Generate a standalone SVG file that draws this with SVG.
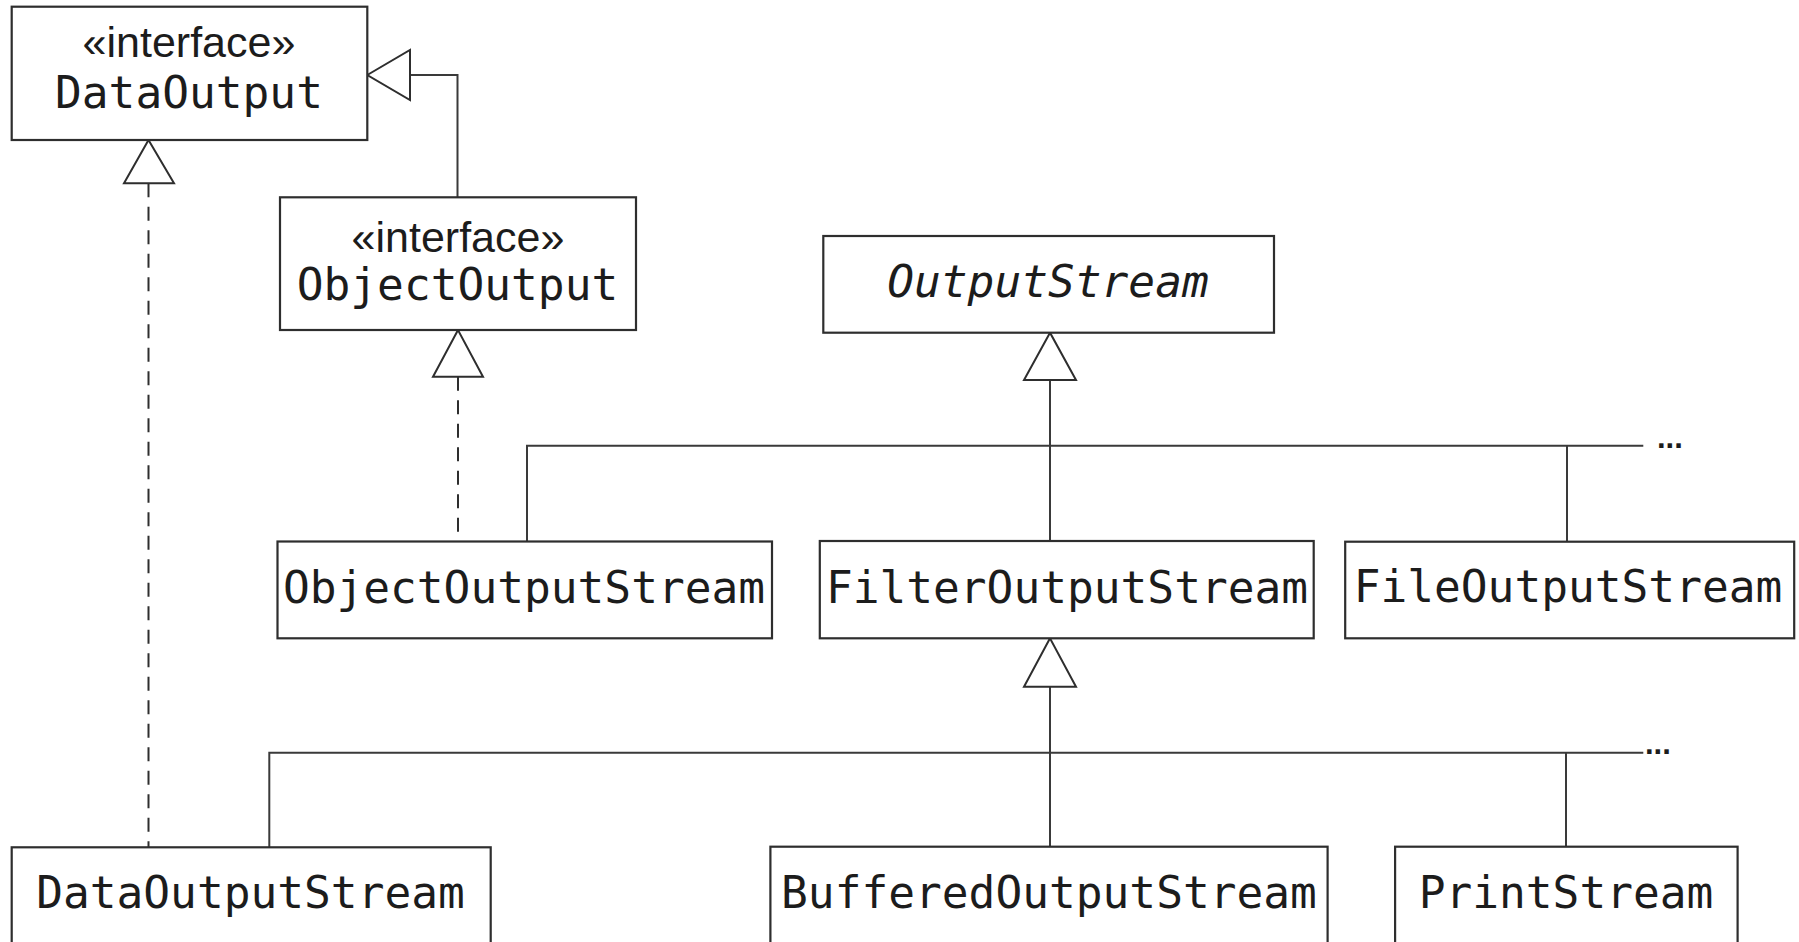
<svg xmlns="http://www.w3.org/2000/svg" width="1799" height="942" viewBox="0 0 1799 942">
  <style>
    .box { fill: #ffffff; stroke: #2e2e2e; stroke-width: 2.2; }
    .line { fill: none; stroke: #3a3a3a; stroke-width: 2; }
    .dash { fill: none; stroke: #2e2e2e; stroke-width: 2; stroke-dasharray: 14 9.5; }
    .tri { fill: #ffffff; stroke: #2e2e2e; stroke-width: 2; stroke-linejoin: miter; }
    .name { font-family: "DejaVu Sans Mono", "Liberation Mono", monospace; font-size: 44.5px; fill: #1c1c1c; text-anchor: middle; }
    .abstract { font-style: italic; }
    .stereo { font-family: "Liberation Sans", Arial, sans-serif; font-size: 43px; fill: #1c1c1c; text-anchor: middle; }
    .dots { font-family: "Liberation Sans", Arial, sans-serif; font-weight: bold; font-size: 31px; fill: #1c1c1c; }
  </style>
  <rect width="1799" height="942" fill="#ffffff"/>

  <g id="connectors">
    <!-- ObjectOutput extends DataOutput -->
    <path class="line" d="M457.5,197.3 V75 H410"/>
    <polygon class="tri" points="367.3,75 410,50 410,100"/>
    <!-- DataOutputStream implements DataOutput -->
    <path class="dash" d="M148.5,183.3 V847"/>
    <polygon class="tri" points="148.5,140 124,183.3 174,183.3"/>
    <!-- ObjectOutputStream implements ObjectOutput -->
    <path class="dash" d="M458,376.7 V540"/>
    <polygon class="tri" points="458,330 433,376.7 483,376.7"/>
    <!-- OutputStream subclasses -->
    <path class="line" d="M1050,380 V541"/>
    <path class="line" d="M527,541.5 V445.7 H1643.3"/>
    <path class="line" d="M1567,445.7 V541.7"/>
    <polygon class="tri" points="1050,332.7 1024,380 1076,380"/>
    <text class="dots" x="1657" y="448">...</text>
    <!-- FilterOutputStream subclasses -->
    <path class="line" d="M1050,686.7 V846.7"/>
    <path class="line" d="M269.3,847.3 V752.7 H1643.3"/>
    <path class="line" d="M1566,752.7 V846.7"/>
    <polygon class="tri" points="1050,638.3 1024,686.7 1076,686.7"/>
    <text class="dots" x="1645" y="754">...</text>
  </g>

  <g id="DataOutput">
    <rect class="box" x="11.7" y="6.7" width="355.6" height="133.3"/>
    <text class="stereo" x="189" y="56.5">«interface»</text>
    <text class="name" x="189" y="108.3">DataOutput</text>
  </g>

  <g id="ObjectOutput">
    <rect class="box" x="280" y="197.3" width="356" height="132.7"/>
    <text class="stereo" x="458" y="251.7">«interface»</text>
    <text class="name" x="457.5" y="300">ObjectOutput</text>
  </g>

  <g id="OutputStream">
    <rect class="box" x="823.3" y="236" width="450.7" height="96.7"/>
    <text class="name abstract" x="1048" y="296.7">OutputStream</text>
  </g>

  <g id="ObjectOutputStream">
    <rect class="box" x="277.5" y="541.5" width="494.5" height="96.8"/>
    <text class="name" x="524" y="603.3">ObjectOutputStream</text>
  </g>

  <g id="FilterOutputStream">
    <rect class="box" x="819.8" y="541" width="493.9" height="97.3"/>
    <text class="name" x="1067" y="603">FilterOutputStream</text>
  </g>

  <g id="FileOutputStream">
    <rect class="box" x="1345.2" y="541.7" width="449" height="96.6"/>
    <text class="name" x="1568" y="602.3">FileOutputStream</text>
  </g>

  <g id="DataOutputStream">
    <rect class="box" x="11.7" y="847.3" width="479" height="110"/>
    <text class="name" x="250.5" y="908.3">DataOutputStream</text>
  </g>

  <g id="BufferedOutputStream">
    <rect class="box" x="770.4" y="846.7" width="557.2" height="110"/>
    <text class="name" x="1049" y="908.3">BufferedOutputStream</text>
  </g>

  <g id="PrintStream">
    <rect class="box" x="1395.1" y="846.7" width="342.5" height="110"/>
    <text class="name" x="1566" y="908.3">PrintStream</text>
  </g>
</svg>
